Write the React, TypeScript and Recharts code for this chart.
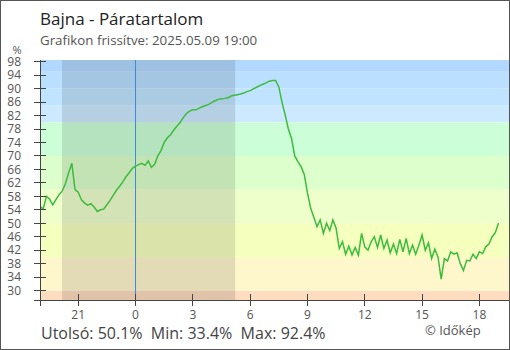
import React from 'react';
import { LineChart, Line, XAxis, YAxis, ReferenceArea, ReferenceLine } from 'recharts';

const FONT = "'Open Sans', 'Noto Sans', sans-serif";

// humidity (%) every 10 minutes, from 19:00 the day before to 19:00
const START_HOUR = -5;
const STEP_MIN = 10;
const humidity = [
  55, 54.2, 58, 57.2, 55.5, 57.0,
  58.5, 59.6, 61.8, 65.0, 67.8, 60.0,
  59.2, 57.0, 56.0, 55.4, 55.8, 54.8,
  53.5, 54.0, 54.2, 55.5, 56.8, 58.3,
  59.8, 61.0, 62.3, 63.8, 65.0, 66.3,
  67.0, 67.4, 67.8, 67.2, 68.5, 66.6,
  67.5, 70.0, 71.6, 74.0, 75.4, 76.3,
  77.7, 78.8, 79.9, 81.4, 82.6, 83.3,
  83.7, 83.7, 84.2, 84.6, 85.0, 85.3,
  85.9, 86.4, 86.8, 87.0, 87.1, 87.3,
  87.8, 88.0, 88.2, 88.4, 88.7, 89.1,
  89.4, 89.9, 90.4, 90.9, 91.3, 91.7,
  92.2, 92.4, 92.4, 90.5, 86.0, 82.2,
  78.0, 75.2, 70.0, 68.3, 66.8, 64.5,
  59.0, 54.5, 51.8, 49.0, 51.0, 47.0,
  50.0, 47.8, 51.0, 48.5, 42.5, 44.5,
  40.8, 43.2, 40.6, 42.8, 40.5, 47.0,
  43.0, 42.0, 44.5, 46.0, 42.8, 46.5,
  42.5, 45.0, 41.2, 43.8, 41.0, 45.2,
  41.5, 45.5, 41.0, 43.5, 40.8, 43.5,
  46.5, 42.0, 44.2, 39.5, 42.3, 40.0,
  33.4, 39.5, 38.8, 41.5, 40.8, 41.2,
  38.0, 36.0, 39.0, 38.8, 40.8, 39.5,
  41.5, 41.0, 43.0, 43.8, 46.0, 47.2,
  50.1,
];

const xDomain = [-5, 19.55];
const yDomain = [27.2, 98.5];
const xTicks = [-5, -3, 0, 3, 6, 9, 12, 15, 18];
const yTicks = [27.2, 30, 34, 38, 42, 46, 50, 54, 58, 62, 66, 70, 74, 78, 82, 86, 90, 94, 98];

// background bands (value ranges) and their colours, bottom to top
const bandEdges = [27.2, 30, 40, 50, 60, 70, 80, 85, 90, 95, 98.5];
const bandColors = ['#fddcbf', '#fff7cc', '#f5ffbe', '#eeffcc', '#ddffcc', '#ccffd8', '#cce9ff', '#c0e4ff', '#badfff', '#b2d8ff'];

// night (sunset -> sunrise), in hours relative to midnight
const sunset = -3.85;
const sunrise = 5.22;

const data = humidity.map((h, i) => ({ t: START_HOUR + (i * STEP_MIN) / 60, h }));

const last = humidity[humidity.length - 1];
const minV = Math.min(...humidity);
const maxV = Math.max(...humidity);

const YTick = (props: any) => {
  const { x, y, payload } = props;
  return (
    <g>
      <line x1={x - 6} x2={x + 6} y1={y} y2={y} stroke="#444" shapeRendering="crispEdges" />
      {payload.value >= 30 && (
        <text x={x - 19} y={y} dy={4.3} textAnchor="end" fill="#555" fontSize={12} fontFamily={FONT}>
          {payload.value}
        </text>
      )}
    </g>
  );
};

const XTick = (props: any) => {
  const { x, y, payload } = props;
  return (
    <g>
      <line x1={x} x2={x} y1={y - 6} y2={y + 6} stroke="#444" shapeRendering="crispEdges" />
      {payload.value > START_HOUR && (
        <text x={x} y={y + 19} textAnchor="middle" fill="#555" fontSize={12} fontFamily={FONT}>
          {(payload.value + 24) % 24}
        </text>
      )}
    </g>
  );
};

export default function App() {
  return (
    <div style={{ position: 'absolute', left: 0, top: 0, width: 510, height: 350, background: '#fff' }}>
      <LineChart width={510} height={350} data={data} margin={{ top: 60, right: 1, bottom: 0, left: 0 }}>
        {bandColors.map((c, i) => (
          <ReferenceArea key={i} y1={bandEdges[i]} y2={bandEdges[i + 1]} fill={c} fillOpacity={1} stroke="none" />
        ))}
        <ReferenceArea x1={sunset} x2={sunrise} fill="#000" fillOpacity={0.11} stroke="none" />
        <ReferenceLine x={0} stroke="#3b8cd2" strokeWidth={1} />
        <XAxis
          type="number"
          dataKey="t"
          domain={xDomain}
          ticks={xTicks}
          interval={0}
          height={50}
          tickSize={0}
          tickMargin={0}
          tickLine={false}
          tick={<XTick />}
          axisLine={{ stroke: '#444', shapeRendering: 'crispEdges' }}
          allowDataOverflow
        />
        <YAxis
          type="number"
          domain={yDomain}
          ticks={yTicks}
          interval={0}
          width={40}
          tickSize={0}
          tickMargin={0}
          tickLine={false}
          tick={<YTick />}
          axisLine={{ stroke: '#444', shapeRendering: 'crispEdges' }}
          allowDataOverflow
        />
        <Line type="linear" dataKey="h" stroke="#3dbb3d" strokeWidth={1.5} dot={false} isAnimationActive={false} />
      </LineChart>
      <svg width={510} height={350} style={{ position: 'absolute', left: 0, top: 0, pointerEvents: 'none' }}>
        <text x={40} y={25} fontSize={17} fill="#222" fontFamily={FONT}>Bajna - Páratartalom</text>
        <text x={40} y={45} fontSize={13.3} fill="#555" fontFamily={FONT}>Grafikon frissítve: 2025.05.09 19:00</text>
        <text x={17} y={54} fontSize={11} fill="#555" textAnchor="middle" fontFamily={FONT}>%</text>
        <text x={41} y={339} fontSize={16} fill="#444" fontFamily={FONT} style={{ whiteSpace: 'pre' }}>
          {`Utolsó: ${last.toFixed(1)}%  Min: ${minV.toFixed(1)}%  Max: ${maxV.toFixed(1)}%`}
        </text>
        <text x={425} y={335} fontSize={13} fill="#555" fontFamily={FONT}>© Időkép</text>
      </svg>
      <div style={{ position: 'absolute', left: 0, top: 0, width: 510, height: 350, boxSizing: 'border-box', border: '1px solid #555', pointerEvents: 'none' }} />
    </div>
  );
}
